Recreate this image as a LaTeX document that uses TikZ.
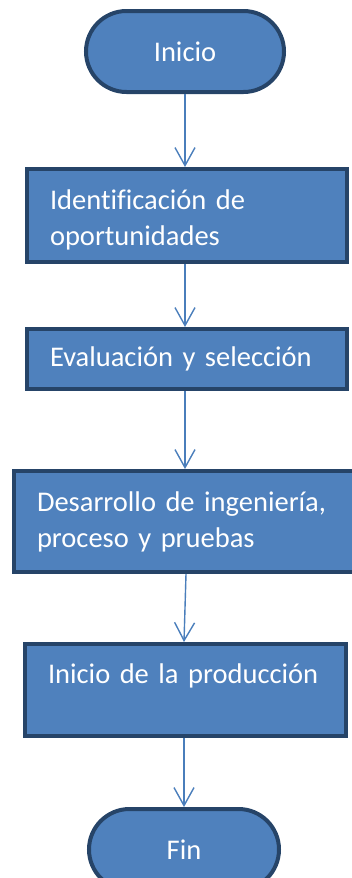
\documentclass[tikz,border=0pt]{standalone}
\usepackage{fontspec}
\setmainfont{Carlito}[Ligatures={NoCommon}]
\usetikzlibrary{arrows.meta,shapes.misc}
\definecolor{boxfill}{HTML}{4F81BD}
\definecolor{boxline}{HTML}{264468}
\definecolor{arrowcol}{HTML}{4A7EBB}
\tikzset{
  base/.style={fill=boxfill, draw=boxline, line width=4pt, text=white,
    font=\fontsize{28.5}{36}\selectfont},
  term/.style={base, rounded rectangle, minimum height=81pt, inner sep=0pt},
  proc/.style={base, rectangle, align=left, inner xsep=23pt, inner ysep=0pt, anchor=west},
  flow/.style={draw=arrowcol, line width=1.4pt, -{Straight Barb[length=18pt,width=20pt,line width=1.4pt]}}
}
\begin{document}
\begin{tikzpicture}[x=1pt,y=1pt]
\useasboundingbox (0,0) rectangle (352,-878);
\clip (0,0) rectangle (352,-878);
\node[term, minimum width=198pt] (start) at (185,-51.5) {Inicio};
\node[proc, minimum width=320pt, minimum height=93pt, text width=274pt] (b1) at (25,-215.5)
  {\rule{0pt}{28pt}Identificación de\\oportunidades};
\node[proc, minimum width=320pt, minimum height=60pt, text width=274pt] (b2) at (25,-359)
  {Evaluación y selección};
\node[proc, minimum width=346pt, minimum height=101pt, text width=300pt] (b3) at (12,-521.5)
  {Desarrollo de ingeniería,\\proceso y pruebas};
\node[proc, minimum width=321pt, minimum height=92pt, text width=275pt] (b4) at (23,-690)
  {Inicio de la producción\\[-4pt]~};
\node[term, minimum width=190pt] (end) at (184,-849.5) {Fin};
\draw[flow] (start.south) -- (b1.north -| start.south);
\draw[flow] (b1.south -| start.south) -- (b2.north -| start.south);
\draw[flow] (b2.south -| start.south) -- (b3.north -| start.south);
\coordinate (a4s) at ([xshift=1pt]b3.south -| start.south);
\coordinate (a4e) at (b4.north -| end.north);
\draw[flow] (a4s) -- (a4e);
\draw[flow] (b4.south -| end.north) -- (end.north);
\end{tikzpicture}
\end{document}
